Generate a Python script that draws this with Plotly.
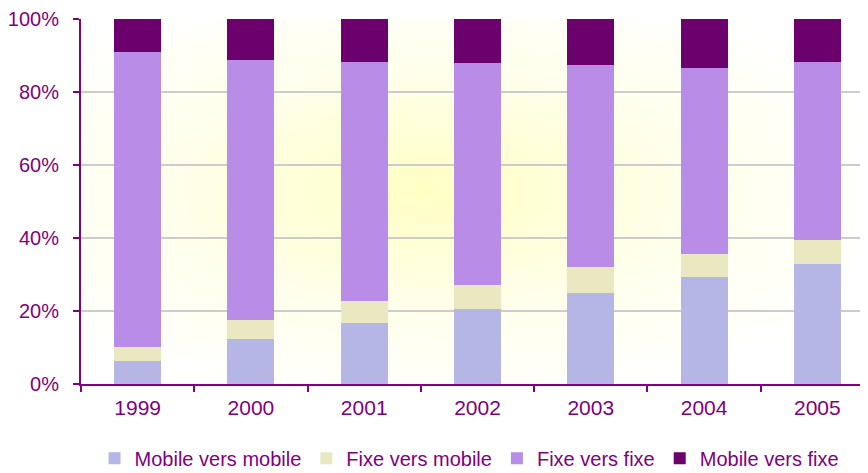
import base64
import plotly.graph_objects as go

years = ["1999", "2000", "2001", "2002", "2003", "2004", "2005"]
mobile_vers_mobile = [6.3, 12.3, 16.7, 20.5, 24.9, 29.3, 32.9]
fixe_vers_mobile = [3.8, 5.2, 6.0, 6.6, 7.2, 6.3, 6.6]
fixe_vers_fixe = [80.9, 71.3, 65.5, 60.8, 55.3, 51.0, 48.7]
mobile_vers_fixe = [9.0, 11.2, 11.8, 12.1, 12.6, 13.4, 11.8]

series_names = ["Mobile vers mobile", "Fixe vers mobile", "Fixe vers fixe", "Mobile vers fixe"]
series_values = [mobile_vers_mobile, fixe_vers_mobile, fixe_vers_fixe, mobile_vers_fixe]
series_colors = ["#b6b6e6", "#eae8c0", "#b98ce8", "#6c006c"]

purple = "#800080"

svg = """<svg xmlns='http://www.w3.org/2000/svg' width='800' height='400' viewBox='0 0 800 400' preserveAspectRatio='none'>
<defs><radialGradient id='g' cx='0.44' cy='0.47' r='0.6'>
<stop offset='0' stop-color='#ffffc4'/><stop offset='0.55' stop-color='#ffffec'/><stop offset='1' stop-color='#ffffff'/>
</radialGradient></defs><rect width='800' height='400' fill='url(#g)'/></svg>"""
bg_uri = "data:image/svg+xml;base64," + base64.b64encode(svg.encode()).decode()

fig = go.Figure()
for name, vals, col in zip(series_names, series_values, series_colors):
    fig.add_trace(go.Bar(
        x=years, y=vals, name=name,
        marker=dict(color=col, line=dict(width=0)),
    ))

# page body has an 8px margin, so the figure is offset and margins shifted
fig.update_layout(
    barmode="stack",
    bargap=0.585,
    width=866, height=465,
    margin=dict(l=73, r=0, t=11, b=89, autoexpand=False),
    paper_bgcolor="white",
    plot_bgcolor="rgba(0,0,0,0)",
    font=dict(family="Liberation Sans, Arial, sans-serif", color=purple, size=21),
    images=[dict(source=bg_uri, xref="paper", yref="paper", x=0, y=1, sizex=1, sizey=1,
                 sizing="stretch", layer="below", xanchor="left", yanchor="top")],
    legend=dict(orientation="h", x=0.49, xanchor="center", y=-0.15, yanchor="top",
                traceorder="normal", font=dict(size=20, color=purple),
                itemwidth=30, tracegroupgap=0),
    showlegend=True,
)
fig.update_xaxes(
    automargin=False,
    showline=True, linecolor=purple, linewidth=2,
    ticks="outside", tickson="boundaries", ticklen=6, tickcolor=purple, tickwidth=2,
    tickfont=dict(size=21, color=purple), showgrid=False, ticklabelstandoff=4,
)
fig.update_yaxes(
    automargin=False,
    range=[0, 100], dtick=20, ticksuffix="%",
    showline=True, linecolor=purple, linewidth=2,
    ticks="outside", ticklen=6, tickcolor=purple, tickwidth=2,
    showgrid=True, gridcolor="#cccccc", gridwidth=2,
    tickfont=dict(size=20, color=purple), zeroline=False, ticklabelstandoff=10,
)

fig.write_html("out.html")
